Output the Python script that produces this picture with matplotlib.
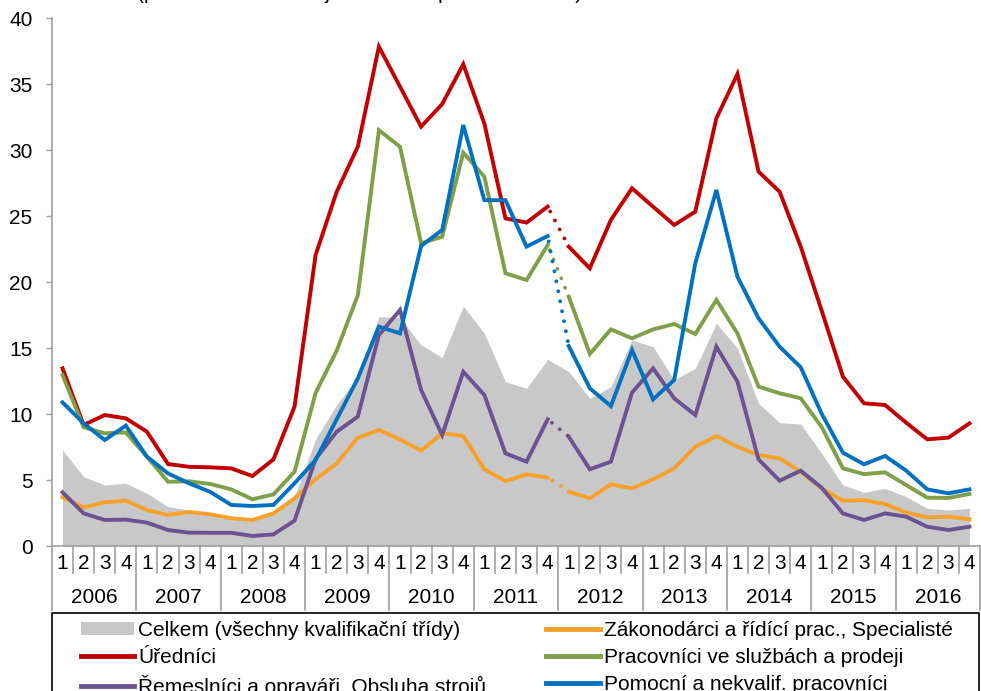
import numpy as np
import matplotlib
matplotlib.use("Agg")
import matplotlib.pyplot as plt
from matplotlib.patches import Patch, Rectangle
from matplotlib.lines import Line2D
from matplotlib.transforms import blended_transform_factory

plt.rcParams['font.family'] = ['Liberation Sans', 'DejaVu Sans']

# quarters 2006Q1 .. 2016Q4
years = ['2006', '2007', '2008', '2009', '2010', '2011',
         '2012', '2013', '2014', '2015', '2016']
quarters = ['1', '2', '3', '4']

celkem = [7.27, 5.25, 4.62, 4.75, 3.99, 2.98, 2.73, 2.47, 2.2, 2.0, 2.5, 3.74,
          8.1, 10.7, 12.8, 17.37, 17.3, 15.23, 14.27, 18.18, 16.11, 12.45, 11.95, 14.14,
          13.21, 11.19, 12.07, 15.6, 15.1, 12.58, 13.46, 16.87, 14.97, 10.81, 9.34, 9.24,
          7.0, 4.62, 4.07, 4.37, 3.74, 2.85, 2.73, 2.85]
zakonodarci = [3.69, 2.93, 3.31, 3.43, 2.73, 2.35, 2.58, 2.4, 2.1, 1.97, 2.47, 3.61,
               5.06, 6.26, 8.2, 8.79, 8.08, 7.22, 8.54, 8.33, 5.81, 4.92, 5.43, 5.18,
               4.12, 3.61, 4.67, 4.37, 5.05, 5.88, 7.52, 8.33, 7.52, 6.89, 6.64, 5.63,
               4.35, 3.43, 3.48, 3.18, 2.53, 2.17, 2.22, 2.02]
urednici = [13.46, 9.17, 9.92, 9.67, 8.66, 6.21, 6.0, 5.96, 5.88, 5.3, 6.56, 10.56,
            22.05, 26.84, 30.25, 37.83, 34.8, 31.77, 33.48, 36.5, 32.0, 24.82, 24.5, 25.71,
            22.68, 21.04, 24.7, 27.1, 25.7, 24.32, 25.33, 32.4, 35.76, 28.36, 26.84, 22.68,
            17.8, 12.83, 10.81, 10.68, 9.34, 8.08, 8.21, 9.29]
sluzby = [12.95, 9.0, 8.54, 8.6, 6.77, 4.87, 4.9, 4.7, 4.29, 3.54, 3.91, 5.63,
          11.6, 14.8, 19.0, 31.5, 30.25, 22.93, 23.43, 29.8, 27.98, 20.66, 20.15, 22.8,
          18.89, 14.55, 16.41, 15.73, 16.41, 16.82, 16.06, 18.64, 16.11, 12.07, 11.57, 11.19,
          9.0, 5.88, 5.45, 5.58, 4.62, 3.66, 3.64, 3.94]
remeslnici = [4.07, 2.47, 1.97, 2.0, 1.77, 1.21, 1.01, 1.0, 1.0, 0.76, 0.88, 1.92,
              6.6, 8.66, 9.8, 15.98, 17.88, 11.82, 8.41, 13.2, 11.44, 7.02, 6.39, 9.6,
              8.28, 5.81, 6.39, 11.62, 13.46, 11.19, 9.92, 15.1, 12.45, 6.56, 4.95, 5.71,
              4.4, 2.47, 1.97, 2.47, 2.22, 1.46, 1.21, 1.46]
pomocni = [10.88, 9.29, 8.03, 9.12, 6.77, 5.5, 4.75, 4.1, 3.11, 3.03, 3.11, 4.75,
           6.52, 9.6, 12.7, 16.62, 16.11, 22.73, 23.94, 31.89, 26.2, 26.2, 22.68, 23.48,
           15.15, 11.95, 10.6, 14.85, 11.11, 12.58, 21.41, 26.97, 20.4, 17.25, 15.1, 13.54,
           10.0, 7.07, 6.19, 6.82, 5.71, 4.29, 3.99, 4.29]

labels = ['Celkem (všechny kvalifikační třídy)',
          'Zákonodárci a řídící prac., Specialisté',
          'Úředníci',
          'Pracovníci ve službách a prodeji',
          'Řemeslníci a opraváři, Obsluha strojů',
          'Pomocní a nekvalif. pracovníci']

gray = '#C8C8C8'
line_series = [
    (zakonodarci, '#F7A12B'),
    (urednici, '#C00000'),
    (sluzby, '#7F9F48'),
    (remeslnici, '#6B5391'),
    (pomocni, '#0070C0'),
]
brk = 23  # series break between 2011Q4 and 2012Q1
fs = 15

fig = plt.figure(figsize=(9.81, 6.91), dpi=100)
ax = fig.add_axes([52 / 981, 1 - 546 / 691, 928 / 981, 528 / 691])

x = np.arange(len(celkem))
ax.fill_between(x, 0, celkem, color=gray, lw=0)

lw = 2.8
for vals, col in line_series:
    v = np.array(vals)
    ax.plot(x[:brk + 1], v[:brk + 1], color=col, lw=lw, solid_joinstyle='miter')
    ax.plot(x[brk + 1:], v[brk + 1:], color=col, lw=lw, solid_joinstyle='miter')
    ax.plot(x[brk:brk + 2], v[brk:brk + 2], color=col, lw=lw,
            linestyle=(1.2, (0.01, 2.6)), dash_capstyle='round')

ax.set_xlim(-0.5, len(celkem) - 0.5)
ax.set_ylim(0, 40)
ax.set_yticks(range(0, 41, 5))
ax.tick_params(axis='y', direction='out', length=4, width=1, color='#A0A0A0',
               labelsize=fs, pad=10)
for s in ['top', 'right']:
    ax.spines[s].set_visible(False)
for s in ['left', 'bottom']:
    ax.spines[s].set_color('#A0A0A0')
    ax.spines[s].set_linewidth(1.2)

# two-level category axis
ax.set_xticks(x)
ax.set_xticklabels(quarters * len(years), fontsize=fs)
ax.tick_params(axis='x', length=0, pad=6)
trans = blended_transform_factory(ax.transData, ax.transAxes)
for k in range(len(celkem) + 1):
    bottom = -0.121 if k % 4 == 0 else -0.052
    ax.plot([k - 0.5, k - 0.5], [0, bottom], transform=trans, color='#A0A0A0',
            lw=1.2, clip_on=False)
for j, yr in enumerate(years):
    ax.text(4 * j + 1.5, -0.098, yr, transform=trans, ha='center', va='center',
            fontsize=fs)

# clipped subtitle at top
fig.text(137 / 981, 1 + 1 / 691, '(počet uchazečů na jedno volné pracovní místo)',
         fontsize=fs, ha='left', va='baseline')

# legend with frame
fig.patches.append(Rectangle((52 / 981, -0.05), 927 / 981, 0.05 + (691 - 613) / 691,
                             transform=fig.transFigure, fill=False, edgecolor='black',
                             lw=1.2))
cols = [c for _, c in line_series]
h_cel = Patch(facecolor=gray, edgecolor='none')
h = [Line2D([], [], color=c, lw=3.5) for c in cols]
handles = [h_cel, h[1], h[3], h[0], h[2], h[4]]
labs = [labels[0], labels[2], labels[4], labels[1], labels[3], labels[5]]
fig.legend(handles, labs, ncol=2, loc='upper left',
           bbox_to_anchor=(66 / 981, 1 - 606 / 691), frameon=False, fontsize=fs,
           handlelength=2.55, handleheight=0.6, handletextpad=0.2, labelspacing=0.4,
           columnspacing=2.9, borderpad=0.2)

fig.savefig('out.png', dpi=100)
